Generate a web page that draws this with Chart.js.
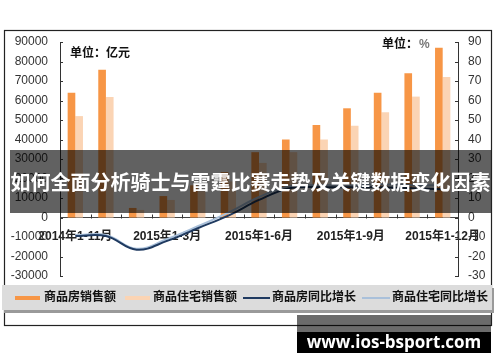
<!DOCTYPE html>
<html>
<head>
<meta charset="utf-8">
<script src="https://cdn.jsdelivr.net/npm/chart.js@4"></script>
<style>
  body { margin: 0; background: #fff; overflow: hidden; }
  #wrap { position: relative; width: 500px; height: 362px; }
  #banner {
    position: absolute; left: 10px; top: 150px; width: 481px; height: 63px;
    background: rgba(0, 0, 0, 0.62); color: #fff;
    font: bold 20px "Noto Sans CJK SC", sans-serif;
    line-height: 63px; text-align: center; white-space: nowrap;
  }
  #mark {
    position: absolute; left: 297px; top: 315px; width: 194px; height: 38px;
    background: rgba(0, 0, 0, 0.58);
  }
  #mark div {
    position: absolute; left: 0; top: 17px; width: 194px; height: 21px;
    background: #000; color: #fff; text-align: center;
    font: bold 17px "Open Sans", sans-serif; line-height: 20px;
  }
</style>
</head>
<body>
<div id="wrap">
  <canvas id="chart"></canvas>
  <div id="banner">如何全面分析骑士与雷霆比赛走势及关键数据变化因素</div>
  <div id="mark"><div>www.ios-bsport.com</div></div>
</div>
<script>
var categories = ['2014年1-11月', '2014年1-12月', '2015年1-2月', '2015年1-3月', '2015年1-4月', '2015年1-5月',
  '2015年1-6月', '2015年1-7月', '2015年1-8月', '2015年1-9月', '2015年1-10月', '2015年1-11月', '2015年1-12月'];
// 亿元
var salesAll = [64000, 75800, 4900, 11000, 16500, 23300, 33500, 40000, 47500, 56000, 64000, 74000, 87000];
var salesRes = [52000, 61800, 3900, 9000, 13500, 18500, 28000, 33500, 40000, 47000, 54000, 62000, 72000];
// %
var growthAll = [-9.5, -9.5, -16.5, -12, -5.5, 1, 9, 15, 15.5, 15.5, 15.5, 15, 14.5];
var growthRes = [-9, -9, -16, -11, -4.5, 2.5, 10.5, 16, 16.5, 16.5, 17, 16.5, 16.5];
var seriesNames = ['商品房销售额', '商品住宅销售额', '商品房同比增长', '商品住宅同比增长'];

var colOrange = '#f79646';
var colPeach = '#fbd4b4';
var colNavy = '#1f3a60';
var colSky = '#a9c0da';
var fontFam = '"Liberation Sans", "Noto Sans CJK SC", sans-serif';

var decor = {
  id: 'decor',
  beforeDraw: function (chart) {
    var ctx = chart.ctx;
    ctx.save();
    ctx.fillStyle = '#fff';
    ctx.fillRect(0, 0, chart.width, chart.height);
    ctx.strokeStyle = '#222';
    ctx.lineWidth = 1.2;
    ctx.strokeRect(4.5, 30.5, 487, 295);
    ctx.restore();
  },
  afterDraw: function (chart) {
    var ctx = chart.ctx;
    var yl = chart.scales.y, yr = chart.scales.y2, x = chart.scales.x;
    ctx.save();
    ctx.strokeStyle = '#333';
    ctx.lineWidth = 1;
    // ticks pointing inward
    yl.ticks.forEach(function (t) {
      var p = Math.round(yl.getPixelForValue(t.value)) + 0.5;
      ctx.beginPath(); ctx.moveTo(yl.right, p); ctx.lineTo(yl.right + 3, p); ctx.stroke();
    });
    yr.ticks.forEach(function (t) {
      var p = Math.round(yr.getPixelForValue(t.value)) + 0.5;
      ctx.beginPath(); ctx.moveTo(yr.left, p); ctx.lineTo(yr.left - 3, p); ctx.stroke();
    });
    var zero = Math.round(yl.getPixelForValue(0)) + 0.5;
    for (var i = 0; i < categories.length - 1; i++) {
      var px = Math.round((x.getPixelForValue(i) + x.getPixelForValue(i + 1)) / 2) + 0.5;
      ctx.beginPath(); ctx.moveTo(px, zero); ctx.lineTo(px, zero - 4); ctx.stroke();
    }

    // unit labels
    ctx.fillStyle = '#111';
    ctx.textBaseline = 'middle';
    ctx.font = 'bold 12px ' + fontFam;
    ctx.fillText('单位：亿元', 70, 54);
    ctx.fillText('单位：', 382, 45);
    ctx.fillStyle = '#777';
    ctx.fillText('%', 419, 45);

    // legend box
    ctx.fillStyle = '#9a9a9a';
    ctx.fillRect(4, 288, 490, 25);
    ctx.fillStyle = '#dcdcdc';
    ctx.fillRect(2, 285, 490, 25);
    var items = [
      { c: colOrange, w: 4, x0: 15, x1: 40, tx: 44 },
      { c: colPeach, w: 4, x0: 125, x1: 150, tx: 153 },
      { c: colNavy, w: 2, x0: 243, x1: 270, tx: 272 },
      { c: colSky, w: 2, x0: 362, x1: 390, tx: 392 }
    ];
    items.forEach(function (it, k) {
      ctx.strokeStyle = it.c;
      ctx.lineWidth = it.w;
      ctx.beginPath(); ctx.moveTo(it.x0, 298); ctx.lineTo(it.x1, 298); ctx.stroke();
      ctx.fillStyle = '#111';
      ctx.fillText(seriesNames[k], it.tx, 298);
    });
    ctx.restore();
  }
};

var ctx = document.getElementById('chart').getContext('2d');

var myChart = new Chart(ctx, {
  type: 'bar',
  data: {
    labels: categories,
    datasets: [
      { type: 'line', label: seriesNames[2], data: growthAll, yAxisID: 'y2', borderColor: colNavy,
        borderWidth: 2, pointRadius: 0, tension: 0.4, order: 0 },
      { type: 'line', label: seriesNames[3], data: growthRes, yAxisID: 'y2', borderColor: colSky,
        borderWidth: 2, pointRadius: 0, tension: 0.4, order: 1 },
      { label: seriesNames[0], data: salesAll, backgroundColor: colOrange, yAxisID: 'y', order: 2 },
      { label: seriesNames[1], data: salesRes, backgroundColor: colPeach, yAxisID: 'y', order: 3 }
    ]
  },
  options: {
    responsive: true,
    maintainAspectRatio: false,
    animation: false,
    layout: { padding: { top: 42, bottom: 86, left: 0, right: 0 } },
    datasets: { bar: { categoryPercentage: 0.5, barPercentage: 1.0 } },
    plugins: { legend: { display: false }, tooltip: { enabled: false } },
    scales: {
      x: {
        position: { y: 0 },
        grid: { display: false, drawTicks: false },
        border: { display: true, color: '#444', width: 1 },
        ticks: {
          autoSkip: false, maxRotation: 0, padding: 12, color: '#222',
          font: { family: fontFam, size: 12, weight: 'bold' },
          callback: function (v, i) { return i % 3 === 0 ? categories[i] : ''; }
        }
      },
      y: {
        position: 'left', min: -30000, max: 90000,
        grid: { display: false, drawTicks: false },
        border: { display: true, color: '#333', width: 1 },
        ticks: {
          stepSize: 10000, padding: 12, color: '#333', font: { family: fontFam, size: 12 },
          callback: function (v) { return String(v); }
        },
        afterFit: function (s) { s.width = 60; }
      },
      y2: {
        position: 'right', min: -30, max: 90,
        grid: { display: false, drawTicks: false },
        border: { display: true, color: '#333', width: 1 },
        ticks: {
          stepSize: 10, padding: 10, color: '#333', font: { family: fontFam, size: 12 },
          callback: function (v) { return String(v); }
        },
        afterFit: function (s) { s.width = 42; }
      }
    }
  },
  plugins: [decor]
});
</script>
</body>
</html>
